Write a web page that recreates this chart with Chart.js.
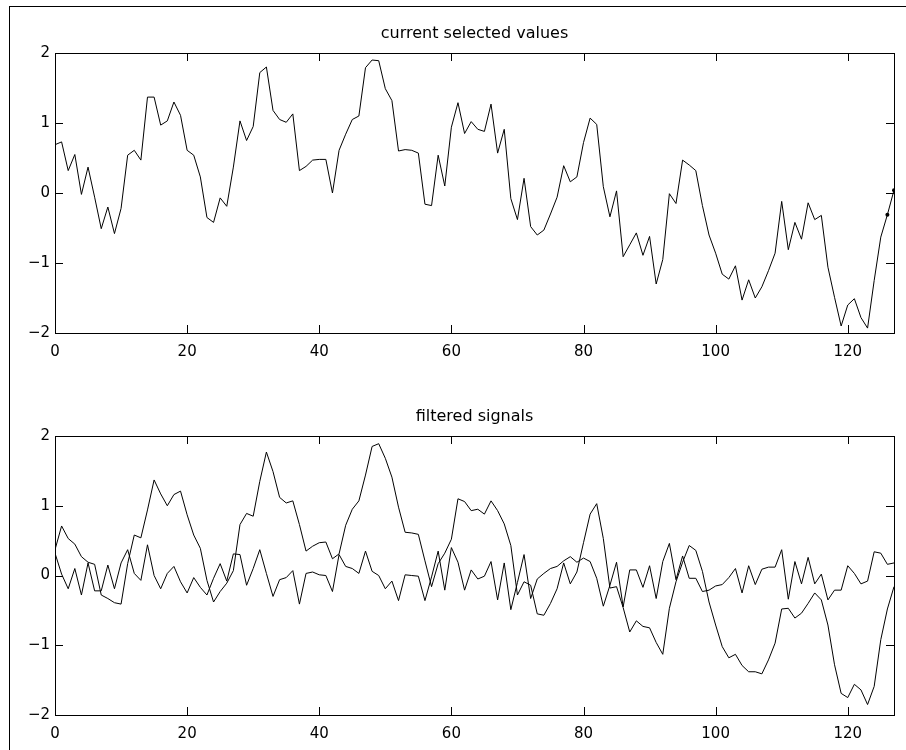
<!DOCTYPE html>
<html>
<head>
<meta charset="utf-8">
<script src="https://cdn.jsdelivr.net/npm/chart.js@4.4.1/dist/chart.umd.min.js"></script>
<style>
  html, body { margin: 0; padding: 0; background: #fff; overflow: hidden; }
  #fig { position: relative; width: 906px; height: 750px; overflow: hidden; background: #fff; }
  #frame { position: absolute; left: 9px; top: 6px; width: 1200px; height: 1200px;
           border-left: 1px solid #000; border-top: 1px solid #000; }
  canvas { position: absolute; left: 0; }
</style>
</head>
<body>
<div id="fig">
  <div id="frame"></div>
  <canvas id="top" width="906" height="370" style="top:0px"></canvas>
  <canvas id="bottom" width="906" height="367" style="top:383px"></canvas>
</div>
<script>
// sample numbers on the x axis
const samples = Array.from({ length: 128 }, (_, i) => i);
const xTicks = [0, 20, 40, 60, 80, 100, 120];
const yTicks = [-2, -1, 0, 1, 2];

const currentValues = [
  0.69, 0.73, 0.32, 0.55, -0.02, 0.37, -0.06, -0.51, -0.20, -0.58,
  -0.22, 0.54, 0.61, 0.47, 1.37, 1.37, 0.97, 1.03, 1.30, 1.11,
  0.61, 0.54, 0.23, -0.35, -0.42, -0.07, -0.19, 0.37, 1.03, 0.75,
  0.95, 1.72, 1.80, 1.18, 1.05, 1.01, 1.13, 0.32, 0.38, 0.47,
  0.48, 0.48, 0.00, 0.61, 0.84, 1.05, 1.10, 1.79, 1.90, 1.89,
  1.49, 1.32, 0.60, 0.62, 0.61, 0.57, -0.16, -0.18, 0.54, 0.10,
  0.94, 1.29, 0.85, 1.02, 0.91, 0.88, 1.27, 0.57, 0.91, -0.08,
  -0.38, 0.21, -0.48, -0.60, -0.53, -0.30, -0.06, 0.39, 0.16, 0.23,
  0.72, 1.07, 0.98, 0.09, -0.34, 0.03, -0.91, -0.74, -0.57, -0.89,
  -0.62, -1.30, -0.95, -0.01, -0.15, 0.47, 0.40, 0.32, -0.18, -0.60,
  -0.86, -1.16, -1.23, -1.04, -1.53, -1.24, -1.50, -1.34, -1.11, -0.86,
  -0.12, -0.81, -0.42, -0.66, -0.14, -0.38, -0.32, -1.06, -1.49, -1.90,
  -1.60, -1.51, -1.78, -1.93, -1.25, -0.63, -0.31, 0.04
];

// filtered: slow component
const filteredLow = [
  0.37, 0.71, 0.53, 0.45, 0.27, 0.19, 0.16, -0.28, -0.33, -0.39,
  -0.41, 0.17, 0.58, 0.54, 0.94, 1.37, 1.17, 1.00, 1.16, 1.21,
  0.87, 0.58, 0.39, -0.07, -0.38, -0.23, -0.11, 0.07, 0.73, 0.89,
  0.85, 1.35, 1.77, 1.49, 1.12, 1.04, 1.07, 0.73, 0.35, 0.42,
  0.47, 0.48, 0.24, 0.31, 0.72, 0.95, 1.07, 1.44, 1.85, 1.89,
  1.68, 1.41, 0.98, 0.62, 0.61, 0.59, 0.21, -0.16, 0.17, 0.32,
  0.52, 1.10, 1.06, 0.93, 0.95, 0.88, 1.07, 0.93, 0.74, 0.43,
  -0.28, -0.09, -0.14, -0.55, -0.57, -0.40, -0.19, 0.18, -0.12, 0.05,
  0.47, 0.88, 1.03, 0.53, -0.18, -0.16, -0.46, -0.81, -0.65, -0.73,
  -0.75, -0.96, -1.13, -0.47, -0.09, 0.19, 0.43, 0.36, 0.06, -0.38,
  -0.71, -1.02, -1.18, -1.13, -1.29, -1.38, -1.38, -1.41, -1.21, -0.97,
  -0.48, -0.47, -0.61, -0.54, -0.40, -0.25, -0.35, -0.71, -1.28, -1.69,
  -1.75, -1.56, -1.64, -1.85, -1.59, -0.92, -0.48, -0.16
];

// filtered: fast component
const filteredHigh = [
  0.32, 0.02, -0.19, 0.10, -0.28, 0.18, -0.22, -0.22, 0.15, -0.19,
  0.18, 0.37, 0.03, -0.07, 0.44, 0.00, -0.19, 0.03, 0.13, -0.09,
  -0.25, -0.03, -0.17, -0.28, -0.04, 0.17, -0.08, 0.31, 0.30, -0.14,
  0.10, 0.37, 0.03, -0.30, -0.06, -0.03, 0.07, -0.41, 0.03, 0.05,
  0.01, 0.00, -0.23, 0.30, 0.13, 0.10, 0.03, 0.35, 0.06, 0.00,
  -0.19, -0.08, -0.36, 0.01, 0.00, -0.01, -0.36, -0.02, 0.35, -0.21,
  0.40, 0.19, -0.21, 0.08, -0.05, -0.01, 0.20, -0.35, 0.18, -0.49,
  -0.10, 0.30, -0.33, -0.05, 0.03, 0.10, 0.13, 0.21, 0.27, 0.19,
  0.25, 0.20, -0.04, -0.44, -0.14, 0.19, -0.45, 0.08, 0.08, -0.17,
  0.14, -0.33, 0.20, 0.46, -0.06, 0.28, -0.04, -0.04, -0.23, -0.21,
  -0.15, -0.13, -0.03, 0.10, -0.25, 0.14, -0.13, 0.09, 0.12, 0.12,
  0.37, -0.34, 0.20, -0.12, 0.26, -0.12, 0.02, -0.35, -0.21, -0.21,
  0.14, 0.03, -0.12, -0.08, 0.34, 0.32, 0.16, 0.18
];

// the two last samples of the top trace carry a dot
const markedSamples = [126, 127];

const FONT = "'DejaVu Sans', sans-serif";

// box + inward ticks on all four sides, and the title above
const boxPlugin = {
  id: "boxTicks",
  afterDraw(chart) {
    const { ctx, chartArea: a, scales } = chart;
    const len = 8;
    ctx.save();
    ctx.strokeStyle = "#000";
    ctx.lineWidth = 1;
    ctx.beginPath();
    xTicks.forEach((v) => {
      const px = Math.round(scales.x.getPixelForValue(v)) + 0.5;
      ctx.moveTo(px, a.bottom);
      ctx.lineTo(px, a.bottom - len);
      ctx.moveTo(px, a.top);
      ctx.lineTo(px, a.top + len);
    });
    yTicks.forEach((v) => {
      const py = Math.round(scales.y.getPixelForValue(v)) + 0.5;
      ctx.moveTo(a.left, py);
      ctx.lineTo(a.left + len, py);
      ctx.moveTo(a.right, py);
      ctx.lineTo(a.right - len, py);
    });
    ctx.stroke();
    ctx.strokeRect(Math.round(a.left) + 0.5, Math.round(a.top) + 0.5,
      Math.round(a.right - a.left), Math.round(a.bottom - a.top));
    const title = chart.options.plugins.boxTicks.title;
    ctx.fillStyle = "#000";
    ctx.font = "16px " + FONT;
    ctx.textAlign = "center";
    ctx.textBaseline = "alphabetic";
    ctx.fillText(title, (a.left + a.right) / 2, a.top - 15);
    ctx.restore();
  },
};

function minusLabel(v) {
  return v < 0 ? "\u2212" + Math.abs(v) : String(v);
}

function makeOptions(title, xAxisHeight) {
  return {
    responsive: false,
    animation: false,
    devicePixelRatio: 1,
    layout: { padding: { top: 53, right: 12, left: 0, bottom: 0 } },
    plugins: {
      legend: { display: false },
      tooltip: { enabled: false },
      boxTicks: { title: title },
    },
    scales: {
      x: {
        type: "linear",
        min: 0,
        max: 127,
        border: { display: false },
        grid: { display: false, drawTicks: false },
        afterBuildTicks: (scale) => { scale.ticks = xTicks.map((v) => ({ value: v })); },
        afterFit: (scale) => { scale.height = xAxisHeight; },
        ticks: { color: "#000", padding: 10, maxRotation: 0, font: { family: FONT, size: 15 } },
      },
      y: {
        min: -2,
        max: 2,
        border: { display: false },
        grid: { display: false, drawTicks: false },
        afterBuildTicks: (scale) => { scale.ticks = yTicks.map((v) => ({ value: v })); },
        afterFit: (scale) => { scale.width = 55; },
        ticks: { color: "#000", padding: 5, callback: minusLabel, font: { family: FONT, size: 15 } },
      },
    },
  };
}

const lineStyle = {
  borderColor: "#000",
  backgroundColor: "#000",
  borderWidth: 1,
  tension: 0,
  fill: false,
  pointRadius: 0,
};

new Chart(document.getElementById("top"), {
  type: "line",
  data: {
    datasets: [
      {
        ...lineStyle,
        label: "current selected values",
        data: currentValues.map((v, i) => ({ x: samples[i], y: v })),
        pointRadius: samples.map((s) => (markedSamples.includes(s) ? 2 : 0)),
        pointBorderWidth: 0,
        pointBackgroundColor: "#000",
      },
    ],
  },
  options: makeOptions("current selected values", 37),
  plugins: [boxPlugin],
});

new Chart(document.getElementById("bottom"), {
  type: "line",
  data: {
    datasets: [
      {
        ...lineStyle,
        label: "low",
        data: filteredLow.map((v, i) => ({ x: samples[i], y: v })),
      },
      {
        ...lineStyle,
        label: "high",
        data: filteredHigh.map((v, i) => ({ x: samples[i], y: v })),
      },
    ],
  },
  options: makeOptions("filtered signals", 35),
  plugins: [boxPlugin],
});
</script>
</body>
</html>
